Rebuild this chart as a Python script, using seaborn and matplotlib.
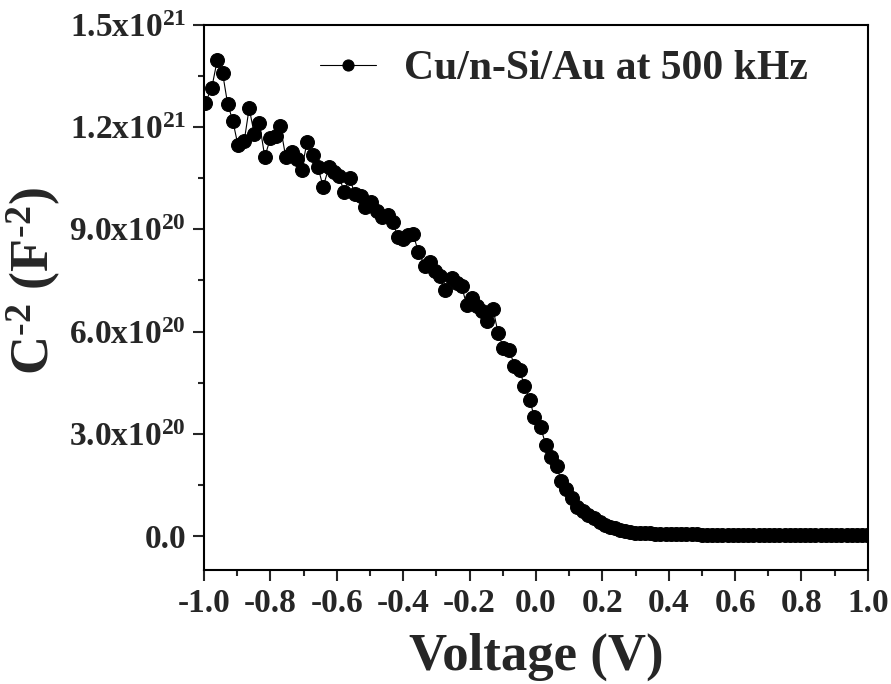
import matplotlib
matplotlib.use("Agg")
import matplotlib.pyplot as plt
import seaborn as sns
import pandas as pd
from matplotlib.ticker import FixedLocator, MultipleLocator

# ---- data (C^-2 in units of 1e20 F^-2) ----
voltage = [
    -0.997, -0.977, -0.960, -0.944, -0.929, -0.913, -0.898, -0.879, -0.864, -0.849,
    -0.833, -0.817, -0.800, -0.783, -0.770, -0.754, -0.736, -0.721, -0.706, -0.690,
    -0.673, -0.657, -0.641, -0.624, -0.608, -0.593, -0.578, -0.561, -0.546, -0.528,
    -0.514, -0.496, -0.480, -0.465, -0.447, -0.432, -0.415, -0.400, -0.385, -0.370,
    -0.354, -0.334, -0.319, -0.304, -0.289, -0.274, -0.254, -0.239, -0.224, -0.209,
    -0.194, -0.179, -0.164, -0.148, -0.129, -0.114, -0.098, -0.080, -0.065, -0.049,
    -0.035, -0.018, -0.005, 0.014, 0.030, 0.045, 0.062, 0.077, 0.092, 0.109,
    0.124, 0.142, 0.158, 0.175, 0.193, 0.208, 0.223, 0.238, 0.253, 0.268,
    0.283, 0.298, 0.313, 0.329, 0.344, 0.360, 0.375, 0.391, 0.406, 0.422,
    0.438, 0.453, 0.469, 0.484, 0.500, 0.515, 0.531, 0.547, 0.562, 0.578,
    0.593, 0.609, 0.624, 0.640, 0.655, 0.671, 0.687, 0.702, 0.718, 0.733,
    0.749, 0.764, 0.780, 0.796, 0.811, 0.827, 0.842, 0.858, 0.873, 0.889,
    0.905, 0.920, 0.936, 0.951, 0.967, 0.982, 0.998,
]
c_minus2_e20 = [
    12.70, 13.14, 13.98, 13.58, 12.69, 12.17, 11.48, 11.59, 12.56, 11.81,
    12.11, 11.13, 11.67, 11.75, 12.02, 11.13, 11.26, 11.06, 10.74, 11.55,
    11.17, 10.83, 10.25, 10.82, 10.68, 10.57, 10.09, 10.51, 10.03, 9.98,
    9.66, 9.81, 9.54, 9.35, 9.41, 9.22, 8.77, 8.71, 8.82, 8.86,
    8.33, 7.92, 8.03, 7.77, 7.62, 7.21, 7.58, 7.43, 7.33, 6.79,
    6.99, 6.74, 6.60, 6.30, 6.65, 5.96, 5.52, 5.47, 4.99, 4.87,
    4.41, 3.98, 3.48, 3.20, 2.66, 2.32, 2.04, 1.60, 1.37, 1.11,
    0.86, 0.72, 0.62, 0.52, 0.42, 0.33, 0.27, 0.22, 0.18, 0.15,
    0.12, 0.10, 0.09, 0.08, 0.075, 0.07, 0.065, 0.06, 0.055, 0.05,
    0.048, 0.046, 0.044, 0.042, 0.040, 0.038, 0.036, 0.035, 0.034, 0.033,
    0.032, 0.031, 0.030, 0.030, 0.029, 0.029, 0.028, 0.028, 0.027, 0.027,
    0.026, 0.026, 0.025, 0.025, 0.025, 0.024, 0.024, 0.024, 0.023, 0.023,
    0.023, 0.022, 0.022, 0.022, 0.021, 0.021, 0.021,
]
series_label = "Cu/n-Si/Au at 500 kHz"

x_ticks = [-1.0, -0.8, -0.6, -0.4, -0.2, 0.0, 0.2, 0.4, 0.6, 0.8, 1.0]
x_ticklabels = ["-1.0", "-0.8", "-0.6", "-0.4", "-0.2", "0.0", "0.2", "0.4", "0.6", "0.8", "1.0"]
y_ticks = [0.0, 3.0e20, 6.0e20, 9.0e20, 1.2e21, 1.5e21]
y_ticklabels = ["0.0", "3.0x10$^{20}$", "6.0x10$^{20}$", "9.0x10$^{20}$",
                "1.2x10$^{21}$", "1.5x10$^{21}$"]

df = pd.DataFrame({"V": voltage, "C2": [v * 1e20 for v in c_minus2_e20]})

sns.set_theme(style="ticks")
plt.rcParams["font.family"] = ["Liberation Serif", "DejaVu Serif"]
plt.rcParams["font.weight"] = "bold"
plt.rcParams["mathtext.fontset"] = "custom"
plt.rcParams["mathtext.rm"] = "Liberation Serif:bold"
plt.rcParams["mathtext.it"] = "Liberation Serif:bold"
plt.rcParams["mathtext.bf"] = "Liberation Serif:bold"
plt.rcParams["mathtext.default"] = "rm"

fig = plt.figure(figsize=(8.91, 6.84), dpi=100)
ax = fig.add_axes([0.229, 0.1667, 0.745, 0.7968])

sns.lineplot(data=df, x="V", y="C2", ax=ax, color="black", linewidth=0.8,
             marker="o", markersize=10, markeredgecolor="black",
             markerfacecolor="black", estimator=None, sort=False,
             label=series_label)

ax.set_xlim(-1.0, 1.0)
ax.set_ylim(-1.0e20, 1.5e21)
ax.xaxis.set_major_locator(FixedLocator(x_ticks))
ax.set_xticklabels(x_ticklabels)
ax.xaxis.set_minor_locator(MultipleLocator(0.1))
ax.yaxis.set_major_locator(FixedLocator(y_ticks))
ax.set_yticklabels(y_ticklabels)
ax.yaxis.set_minor_locator(MultipleLocator(1.5e20))

ax.tick_params(axis="both", which="major", direction="out", length=8, width=1.5,
               labelsize=24, pad=5)
ax.tick_params(axis="both", which="minor", direction="out", length=4.5, width=1.5)
for lab in ax.get_xticklabels() + ax.get_yticklabels():
    lab.set_fontweight("bold")

for sp in ax.spines.values():
    sp.set_visible(True)
    sp.set_linewidth(1.5)
    sp.set_color("black")

ax.set_xlabel("Voltage (V)", fontsize=38, fontweight="bold", labelpad=10)
ax.set_ylabel("C$^{\u2010 2}$ (F$^{\u2010 2}$)", fontsize=39, fontweight="bold")
ax.yaxis.set_label_coords(-0.213, 0.53)

leg = ax.legend(loc="center left", bbox_to_anchor=(0.175, 0.919), frameon=False,
                fontsize=30, handlelength=1.35, handletextpad=0.65,
                borderpad=0, borderaxespad=0, markerscale=0.8)
for t in leg.get_texts():
    t.set_fontweight("bold")

fig.savefig("out.png", dpi=100)
